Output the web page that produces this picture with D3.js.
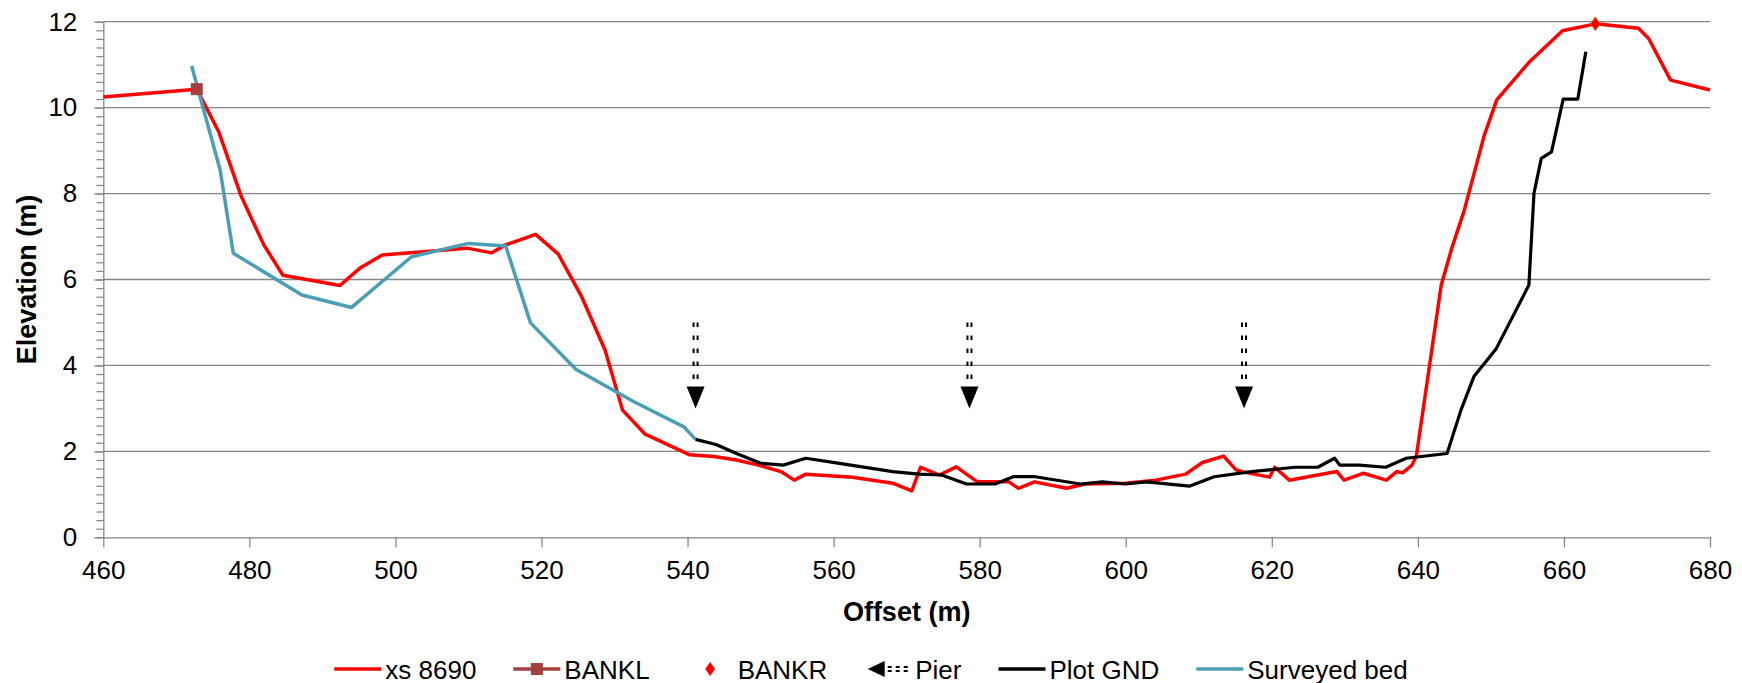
<!DOCTYPE html>
<html>
<head>
<meta charset="utf-8">
<script src="https://cdn.jsdelivr.net/npm/d3@7"></script>
<style>
  html, body { margin: 0; padding: 0; background: #fff; }
  text { font-family: "Liberation Sans", Arial, sans-serif; }
</style>
</head>
<body>
<div id="chart"></div>
<script>
// xs 8690 cross section (offset, elevation)
const xsOffset = [460, 472.8, 475.8, 478.9, 482.0, 484.6, 492.4, 495.1, 498.2, 509.8, 513.2, 515.0, 519.2, 522.3, 525.5, 528.7,
  531.1, 534.2, 540.3, 543.6, 546.7, 549.7, 552.8, 554.6, 556.2, 562.6, 568.1, 570.7, 571.9, 574.5, 576.8, 579.7,
  584.0, 585.3, 587.5, 591.9, 594.4, 599.9, 604.1, 608.2, 610.5, 613.4, 615.1, 616.7, 619.7, 620.4, 622.4, 628.9,
  629.9, 632.5, 635.7, 637.1, 637.9, 639.2, 639.8, 643.2, 644.7, 646.3, 649.1, 650.8, 655.3, 659.8, 664.3, 670.2,
  671.6, 674.6, 680];
const xsElev = [10.25, 10.43, 9.44, 7.93, 6.80, 6.10, 5.86, 6.26, 6.57, 6.73, 6.62, 6.80, 7.05, 6.59, 5.6, 4.36,
  2.96, 2.40, 1.92, 1.88, 1.80, 1.68, 1.53, 1.33, 1.47, 1.40, 1.26, 1.08, 1.63, 1.45, 1.64, 1.29,
  1.29, 1.14, 1.29, 1.14, 1.24, 1.26, 1.33, 1.47, 1.74, 1.89, 1.57, 1.50, 1.40, 1.63, 1.33, 1.53,
  1.33, 1.49, 1.33, 1.53, 1.50, 1.68, 1.9, 5.87, 6.76, 7.58, 9.36, 10.18, 11.07, 11.79, 11.95, 11.85,
  11.61, 10.64, 10.41];

// bank stations
const bankL = [472.8, 10.43];
const bankR = [664.3, 11.95];

// plot ground
const gndOffset = [541.1, 543.9, 546.7, 550.1, 553.1, 556.2, 560.8, 568.1, 571.7, 574.8, 578.2, 582.1, 584.6, 587.6,
  593.8, 596.8, 599.9, 602.9, 608.7, 612.1, 617.2, 623.2, 626.3, 628.6, 629.3, 632.0, 635.6, 638.4, 644.0, 645.9,
  647.7, 650.7, 655.2, 655.9, 656.9, 658.3, 659.9, 661.9, 663.0];
const gndElev = [2.28, 2.16, 1.95, 1.72, 1.68, 1.84, 1.72, 1.53, 1.47, 1.45, 1.24, 1.24, 1.41, 1.41,
  1.24, 1.29, 1.24, 1.29, 1.19, 1.41, 1.53, 1.63, 1.63, 1.84, 1.68, 1.68, 1.63, 1.84, 1.95, 2.96,
  3.75, 4.38, 5.87, 8.01, 8.82, 8.97, 10.20, 10.20, 11.30];

// surveyed bed
const bedOffset = [472.1, 476.0, 477.8, 487.2, 494.0, 502.2, 510.0, 515.1, 518.5, 524.7, 532.6, 539.5, 541.1];
const bedElev = [10.97, 8.55, 6.61, 5.64, 5.35, 6.53, 6.84, 6.78, 4.99, 3.91, 3.16, 2.57, 2.28];

// piers: arrow from top to bottom elevation
const pierOffset = [541.1, 578.6, 616.2];
const pierTop = 5;
const pierBottom = 3;

const xTicks = d3.range(460, 681, 20);
const yTicks = d3.range(0, 13, 2);

const width = 1742, height = 683;
const margin = { left: 103.3, right: 32, top: 21.7, bottom: 145.7 };

const svg = d3.select('#chart').append('svg')
  .attr('width', width)
  .attr('height', height)
  .style('display', 'block');

const x = d3.scaleLinear().domain([460, 680]).range([margin.left, width - margin.right]);
const y = d3.scaleLinear().domain([0, 12]).range([height - margin.bottom, margin.top]);

const gridColor = '#868686';

// gridlines
svg.append('g')
  .selectAll('line')
  .data(yTicks.filter(d => d > 0))
  .enter()
  .append('line')
  .attr('x1', x(460))
  .attr('x2', x(680))
  .attr('y1', d => y(d))
  .attr('y2', d => y(d))
  .attr('stroke', gridColor)
  .attr('stroke-width', 1.3);

// minor y ticks
svg.append('g')
  .attr('transform', `translate(${x(460)},0)`)
  .call(d3.axisLeft(y).tickValues(d3.range(0, 12.01, 0.2)).tickSize(7).tickFormat(''))
  .call(g => g.select('.domain').remove())
  .call(g => g.selectAll('line').attr('stroke', gridColor).attr('stroke-width', 1.2));

// y axis
svg.append('g')
  .attr('transform', `translate(${x(460)},0)`)
  .call(d3.axisLeft(y).tickValues(yTicks).tickSize(9).tickPadding(17).tickSizeOuter(0))
  .call(g => g.select('.domain').attr('stroke', gridColor).attr('stroke-width', 1.3))
  .call(g => g.selectAll('.tick line').attr('stroke', gridColor).attr('stroke-width', 1.3))
  .call(g => g.selectAll('.tick text')
    .attr('fill', '#000')
    .style('font-size', '26px')
    .style('font-family', '"Liberation Sans", Arial, sans-serif'));

// x axis
svg.append('g')
  .attr('transform', `translate(0,${y(0)})`)
  .call(d3.axisBottom(x).tickValues(xTicks).tickSize(10).tickPadding(13).tickSizeOuter(0))
  .call(g => g.select('.domain').attr('stroke', gridColor).attr('stroke-width', 1.3))
  .call(g => g.selectAll('.tick line').attr('stroke', gridColor).attr('stroke-width', 1.3))
  .call(g => g.selectAll('.tick text')
    .attr('fill', '#000')
    .style('font-size', '26px')
    .style('font-family', '"Liberation Sans", Arial, sans-serif'));

// axis titles
svg.append('text')
  .attr('x', (x(460) + x(680)) / 2)
  .attr('y', 621)
  .attr('text-anchor', 'middle')
  .attr('font-size', 27)
  .attr('font-weight', 'bold')
  .text('Offset (m)');

svg.append('text')
  .attr('transform', `translate(36,${(y(0) + y(12)) / 2}) rotate(-90)`)
  .attr('text-anchor', 'middle')
  .attr('font-size', 27)
  .attr('font-weight', 'bold')
  .text('Elevation (m)');

const line = d3.line().x(d => x(d[0])).y(d => y(d[1]));

const series = [
  { name: 'xs 8690', xs: xsOffset, ys: xsElev, color: '#ff0000', width: 3.5 },
  { name: 'Plot GND', xs: gndOffset, ys: gndElev, color: '#000000', width: 3.2 },
  { name: 'Surveyed bed', xs: bedOffset, ys: bedElev, color: '#4a9eb6', width: 3.5 }
];

// draw order: red, teal, black on top
[series[0], series[2], series[1]].forEach(s => {
  svg.append('path')
    .datum(s.xs.map((v, i) => [v, s.ys[i]]))
    .attr('d', line)
    .attr('fill', 'none')
    .attr('stroke', s.color)
    .attr('stroke-width', s.width)
    .attr('stroke-linejoin', 'round');
});

// 岸标 markers
const bankLColor = '#a2403d';
svg.append('rect')
  .attr('x', x(bankL[0]) - 6)
  .attr('y', y(bankL[1]) - 6)
  .attr('width', 12)
  .attr('height', 12)
  .attr('fill', bankLColor);

const diamond = (cx, cy, r) => `M${cx},${cy - r}L${cx + r * 0.7},${cy}L${cx},${cy + r}L${cx - r * 0.7},${cy}Z`;
svg.append('path')
  .attr('d', diamond(x(bankR[0]), y(bankR[1]), 7))
  .attr('fill', '#ff0000')
  .attr('stroke', '#9a9a30')
  .attr('stroke-width', 0.6);

// pier arrows: dashed double line with a filled head
function drawPier(g, px, yTop, yTip) {
  const headH = 22, headW = 9;
  [-2, 2].forEach(dx => {
    g.append('line')
      .attr('x1', px + dx).attr('x2', px + dx)
      .attr('y1', yTop).attr('y2', yTip - headH + 2)
      .attr('stroke', '#000')
      .attr('stroke-width', 2)
      .attr('stroke-dasharray', '4.5 8.5');
  });
  g.append('path')
    .attr('d', `M${px - headW},${yTip - headH}L${px + headW},${yTip - headH}L${px},${yTip}Z`)
    .attr('fill', '#000');
}

const piers = svg.append('g');
pierOffset.forEach(p => drawPier(piers, x(p), y(pierTop), y(pierBottom)));

// legend
const legendItems = [
  { name: 'xs 8690', type: 'line', color: '#ff0000' },
  { name: 'BANKL', type: 'square', color: bankLColor },
  { name: 'BANKR', type: 'diamond', color: '#ff0000' },
  { name: 'Pier', type: 'pier', color: '#000' },
  { name: 'Plot GND', type: 'line', color: '#000' },
  { name: 'Surveyed bed', type: 'line', color: '#4a9eb6' }
];

const legend = svg.append('g');
const legendY = 669;
const symW = 47, symGap = 4, itemGap = 37;
let cursor = 0;
legendItems.forEach(item => {
  const g = legend.append('g').attr('transform', `translate(${cursor},0)`);
  if (item.type === 'line' || item.type === 'square') {
    g.append('line')
      .attr('x1', 0).attr('x2', symW)
      .attr('y1', legendY).attr('y2', legendY)
      .attr('stroke', item.color)
      .attr('stroke-width', 3.5);
  }
  if (item.type === 'square') {
    g.append('rect')
      .attr('x', symW / 2 - 6).attr('y', legendY - 6)
      .attr('width', 12).attr('height', 12)
      .attr('fill', item.color);
  }
  if (item.type === 'diamond') {
    g.append('path').attr('d', diamond(symW / 2, legendY, 7)).attr('fill', item.color);
  }
  if (item.type === 'pier') {
    g.append('path')
      .attr('d', `M${symW / 2 - 20},${legendY}L${symW / 2 - 3},${legendY - 8}L${symW / 2 - 3},${legendY + 8}Z`)
      .attr('fill', '#000');
    [-2, 2].forEach(dy => {
      g.append('line')
        .attr('x1', symW / 2).attr('x2', symW)
        .attr('y1', legendY + dy).attr('y2', legendY + dy)
        .attr('stroke', '#000')
        .attr('stroke-width', 2)
        .attr('stroke-dasharray', '4 4');
    });
  }
  const t = g.append('text')
    .attr('x', symW + symGap)
    .attr('y', legendY + 9.5)
    .attr('font-size', 26)
    .text(item.name);
  cursor += symW + symGap + t.node().getComputedTextLength() + itemGap;
});
const legendW = cursor - itemGap;
legend.attr('transform', `translate(${871 - legendW / 2},0)`);
</script>
</body>
</html>
